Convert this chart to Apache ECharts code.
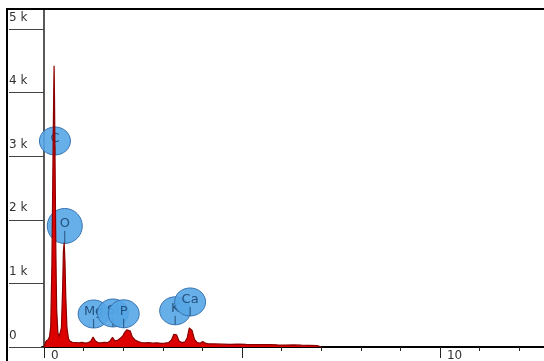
<!DOCTYPE html>
<html>
<head>
<meta charset="utf-8">
<script src="https://cdn.jsdelivr.net/npm/echarts@6/dist/echarts.min.js"></script>
<style>html,body{margin:0;padding:0;background:#fff;}#c{width:544px;height:361px;}</style>
</head>
<body>
<div id="c"></div>
<script>
// Spectrum (energy in keV, counts)
const spectrumEnergy = [0.00,0.02,0.05,0.08,0.11,0.14,0.17,0.20,0.23,0.245,0.255,0.265,0.28,0.30,0.32,0.35,0.38,0.41,0.44,0.47,0.49,0.51,0.53,0.55,0.58,0.62,0.66,0.72,0.80,0.88,0.96,1.04,1.12,1.18,1.24,1.30,1.36,1.44,1.52,1.60,1.66,1.73,1.79,1.86,1.93,1.99,2.04,2.09,2.13,2.18,2.23,2.30,2.38,2.46,2.55,2.65,2.75,2.85,2.95,3.05,3.15,3.22,3.28,3.31,3.35,3.41,3.48,3.56,3.62,3.67,3.70,3.74,3.80,3.87,3.94,4.01,4.07,4.15,4.30,4.50,4.70,4.90,5.10,5.30,5.50,5.70,5.90,6.10,6.30,6.50,6.70,6.90,7.00];
const spectrumCounts = [0,30,90,110,120,160,320,1300,3100,3960,4420,3960,2900,1500,600,230,160,170,300,900,1500,1640,1350,800,300,130,90,75,70,65,72,62,70,90,155,95,70,65,72,68,90,150,95,105,140,175,230,270,285,250,160,110,85,70,65,68,60,65,58,62,70,110,200,230,190,95,70,80,150,300,330,260,120,70,60,85,60,50,48,45,42,44,40,38,36,38,33,30,32,28,25,22,0];

// Element labels
const elementNames = ['C','O','Mg','Si','P','K','Ca'];
const elementEnergies = [0.277,0.525,1.254,1.74,2.013,3.313,3.69];
const labelCounts = [3239,1903,519,535,522,569,708];

// Axis ticks
const xTickValues = [0,1,2,3,4,5,6,7,8,9,10,11,12];
const xMajorTicks = [0,5,10];
const xLabelValues = [0,10];
const yTickValues = [0,1000,2000,3000,4000,5000];

const chart = echarts.init(document.getElementById('c'));
const font = 'DejaVu Sans';

chart.setOption({
  animation: false,
  grid: {left: 42, top: 9, right: 0, bottom: 14, containLabel: false, outerBoundsMode: 'none'},
  xAxis: [{
    type: 'value', min: -0.05, max: 12.627,
    axisLine: {show: true, lineStyle: {color: '#000', width: 2}},
    axisTick: {show: true, customValues: xTickValues, length: 4, lineStyle: {color: '#222', width: 1}},
    axisLabel: {show: false},
    splitLine: {show: false}
  }, {
    type: 'value', min: -0.05, max: 12.627, position: 'bottom',
    axisLine: {show: false},
    axisTick: {show: true, customValues: xMajorTicks, length: 11, lineStyle: {color: '#222', width: 1}},
    axisLabel: {show: true, customValues: xLabelValues, align: 'left', padding: [0,0,0,7], margin: 3,
      color: '#333', fontFamily: font, fontSize: 12, formatter: v => String(v)},
    splitLine: {show: false}
  }],
  yAxis: {
    type: 'value', min: 0, max: 5314,
    axisLine: {show: true, lineStyle: {color: '#222', width: 1.5}},
    axisTick: {show: true, customValues: yTickValues, length: 35, lineStyle: {color: '#444', width: 1}},
    axisLabel: {show: true, customValues: yTickValues, align: 'left', margin: 33, verticalAlign: 'middle',
      lineHeight: 23, color: '#333', fontFamily: font, fontSize: 12,
      formatter: v => (v === 0 ? '0' : (v/1000) + ' k') + '\n '},
    splitLine: {show: false}
  },
  graphic: [
    {type: 'line', shape: {x1: 6, y1: 9, x2: 544, y2: 9}, style: {stroke: '#000', lineWidth: 2}, z: 100},
    {type: 'line', shape: {x1: 7, y1: 8, x2: 7, y2: 361}, style: {stroke: '#000', lineWidth: 2}, z: 100}
  ],
  series: [{
    type: 'custom',
    z: 2,
    clip: false,
    data: elementEnergies.map((e, i) => [e, labelCounts[i], i]),
    renderItem: function (params, api) {
      const p = api.coord([api.value(0), api.value(1)]);
      const name = elementNames[api.value(2)];
      const big = name === 'O';
      const rx = big ? 17.5 : 15.5, ry = big ? 17.5 : 14;
      return {
        type: 'group',
        children: [
          {type: 'ellipse', shape: {cx: p[0], cy: p[1], rx: rx, ry: ry},
            style: {fill: 'rgba(86,166,230,0.9)', stroke: '#3673b0', lineWidth: 1}},
          {type: 'text', style: {text: name, x: p[0], y: p[1] - 2, align: 'center', verticalAlign: 'middle',
            fill: '#24527f', font: '13px "DejaVu Sans"'}},
          {type: 'line', shape: {x1: p[0], y1: p[1] + 5, x2: p[0], y2: p[1] + ry},
            style: {stroke: '#24527f', lineWidth: 1}}
        ]
      };
    }
  }, {
    type: 'line',
    z: 5,
    showSymbol: false,
    smooth: false,
    data: spectrumEnergy.map((e, i) => [e, spectrumCounts[i]]),
    lineStyle: {color: '#8a0000', width: 1.2},
    areaStyle: {color: '#dc0000', opacity: 1}
  }]
});
</script>
</body>
</html>
